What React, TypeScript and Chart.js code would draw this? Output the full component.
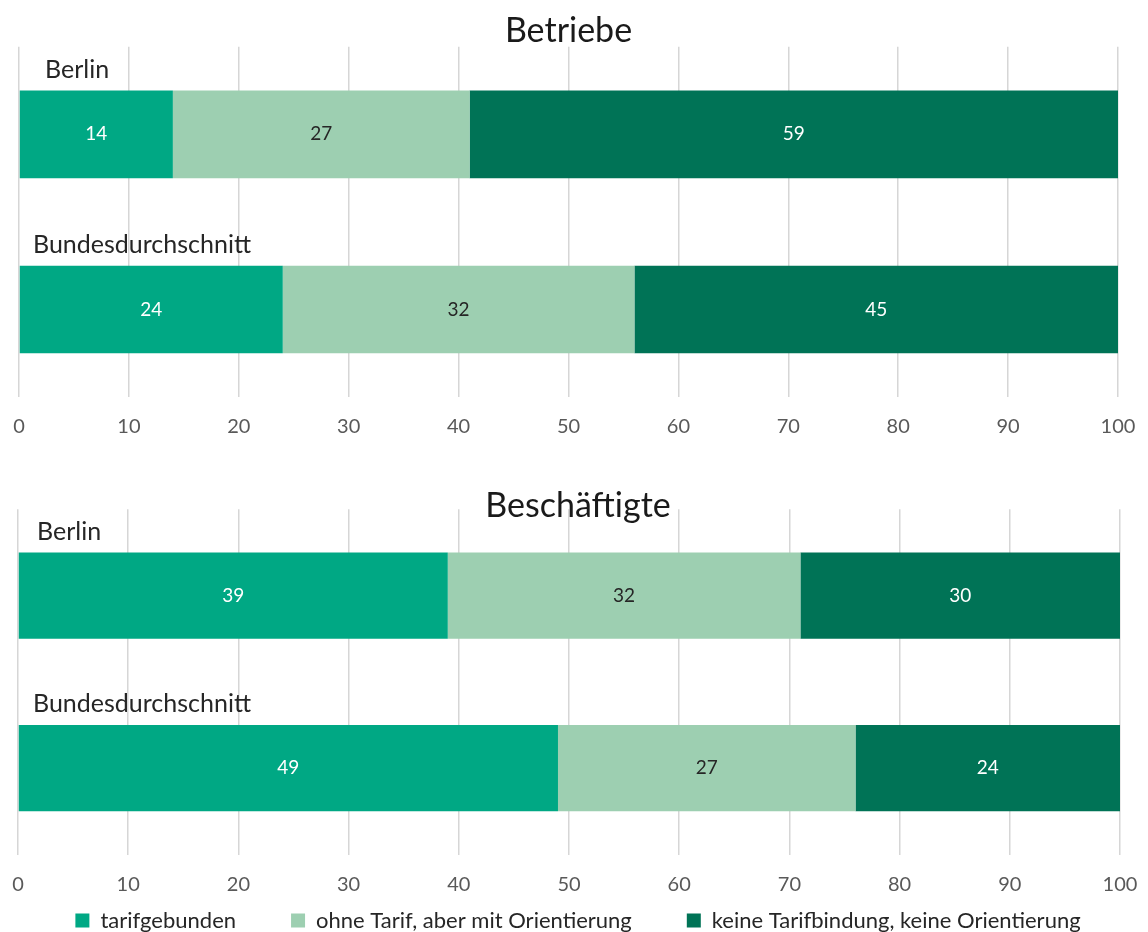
import React, { useEffect, useRef } from "react";
import { Chart, registerables } from "chart.js";

Chart.register(...registerables);

// ---- data ----
const panelTitles = ["Betriebe", "Beschäftigte"];
const categories = ["Berlin", "Bundesdurchschnitt"];
const seriesNames = [
  "tarifgebunden",
  "ohne Tarif, aber mit Orientierung",
  "keine Tarifbindung, keine Orientierung",
];
const betriebeTarif = [14, 24];
const betriebeOhne = [27, 32];
const betriebeKeine = [59, 45];
const beschTarif = [39, 49];
const beschOhne = [32, 27];
const beschKeine = [30, 24];
const xTickMin = 0;
const xTickMax = 100;
const xTickStep = 10;

// ---- style ----
const FONT = "Lato";
const seriesColors = ["#00A884", "#9DCFB1", "#007356"];
const valueColors = ["#ffffff", "#262626", "#ffffff"];

const overlayPlugin = {
  id: "overlay",
  afterDatasetsDraw(chart: any, _args: any, opts: any) {
    const { ctx, chartArea } = chart;
    ctx.save();
    chart.data.datasets.forEach((ds: any, di: number) => {
      const meta = chart.getDatasetMeta(di);
      meta.data.forEach((el: any, i: number) => {
        const { x, base, y } = el.getProps(["x", "base", "y"], true);
        const r = Math.min(Math.max(x, base), chartArea.right);
        const l = Math.max(Math.min(x, base), chartArea.left);
        ctx.font = `${opts.valueSize}px ${FONT}`;
        ctx.fillStyle = valueColors[di];
        ctx.textAlign = "center";
        ctx.textBaseline = "middle";
        ctx.fillText(String(ds.data[i]), (l + r) / 2, y);
      });
    });
    const meta0 = chart.getDatasetMeta(0);
    meta0.data.forEach((el: any, i: number) => {
      const { y, height } = el.getProps(["y", "height"], true);
      ctx.font = `${opts.catSize}px ${FONT}`;
      ctx.fillStyle = "#262626";
      ctx.textAlign = "left";
      ctx.textBaseline = "middle";
      ctx.fillText(
        chart.data.labels[i],
        chartArea.left + opts.catOffsets[i],
        y - height / 2 - opts.catGap
      );
    });
    ctx.restore();
  },
};

function makeConfig(p: any): any {
  return {
    type: "bar",
    data: {
      labels: categories,
      datasets: seriesNames.map((name, k) => ({
        label: name,
        data: p.series[k],
        backgroundColor: seriesColors[k],
        borderWidth: 0,
        categoryPercentage: 1,
        barPercentage: 0.5,
        clip: 0,
      })),
    },
    options: {
      indexAxis: "y",
      responsive: false,
      animation: false,
      layout: { padding: p.padding },
      scales: {
        x: {
          stacked: true,
          min: xTickMin,
          max: xTickMax,
          position: "bottom",
          weight: 2000,
          border: { display: false },
          grid: {
            color: "#d6d6d6",
            lineWidth: 1.5,
            drawTicks: true,
            tickLength: 7,
            tickColor: "rgba(0,0,0,0)",
          },
          ticks: {
            stepSize: xTickStep,
            padding: p.tickPadding,
            mirror: p.mirror,
            color: "#595959",
            font: { family: FONT, size: 20 },
          },
          afterFit: p.afterFit,
        },
        y: { stacked: true, display: false },
      },
      plugins: {
        title: {
          display: true,
          text: p.title,
          color: "#1a1a1a",
          font: { family: FONT, size: 34, weight: "normal" },
          padding: p.titlePadding,
        },
        legend: p.legend,
        tooltip: { enabled: false },
        overlay: {
          valueSize: 19,
          catSize: 25,
          catGap: 21,
          catOffsets: p.catOffsets,
        },
      },
    },
    plugins: [overlayPlugin],
  };
}

export default function App() {
  const topRef = useRef<HTMLCanvasElement>(null);
  const botRef = useRef<HTMLCanvasElement>(null);

  useEffect(() => {
    const top = new Chart(
      topRef.current as HTMLCanvasElement,
      makeConfig({
        series: [betriebeTarif, betriebeOhne, betriebeKeine],
        title: panelTitles[0],
        titlePadding: { top: 11, bottom: -5 },
        padding: { left: 19, right: 30, top: 0, bottom: 18 },
        tickPadding: 11,
        mirror: false,
        afterFit: (scale: any) => {
          scale.height = 45;
        },
        catOffsets: [26, 14],
        legend: { display: false },
      })
    );
    const bot = new Chart(
      botRef.current as HTMLCanvasElement,
      makeConfig({
        series: [beschTarif, beschOhne, beschKeine],
        title: panelTitles[1],
        titlePadding: { top: 26, bottom: -17.5 },
        padding: { left: 18, right: 10, top: 0, bottom: 0 },
        tickPadding: 35,
        mirror: true,
        afterFit: (scale: any) => {
          scale.height = 0;
          scale.paddingLeft = 0;
          scale.paddingRight = 28;
        },
        catOffsets: [19, 15],
        legend: {
          display: true,
          position: "bottom",
          maxHeight: 77.5,
          labels: {
            boxWidth: 14,
            boxHeight: 14,
            padding: 55,
            color: "#262626",
            font: { family: FONT, size: 22 },
          },
        },
      })
    );
    return () => {
      top.destroy();
      bot.destroy();
    };
  }, []);

  return (
    <div
      style={{
        position: "absolute",
        left: 0,
        top: 0,
        width: 1148,
        height: 932,
        background: "#ffffff",
      }}
    >
      <canvas
        ref={topRef}
        width={1148}
        height={460}
        style={{ position: "absolute", left: 0, top: 0, display: "block" }}
      />
      <canvas
        ref={botRef}
        width={1148}
        height={472}
        style={{ position: "absolute", left: 0, top: 460, display: "block" }}
      />
    </div>
  );
}
